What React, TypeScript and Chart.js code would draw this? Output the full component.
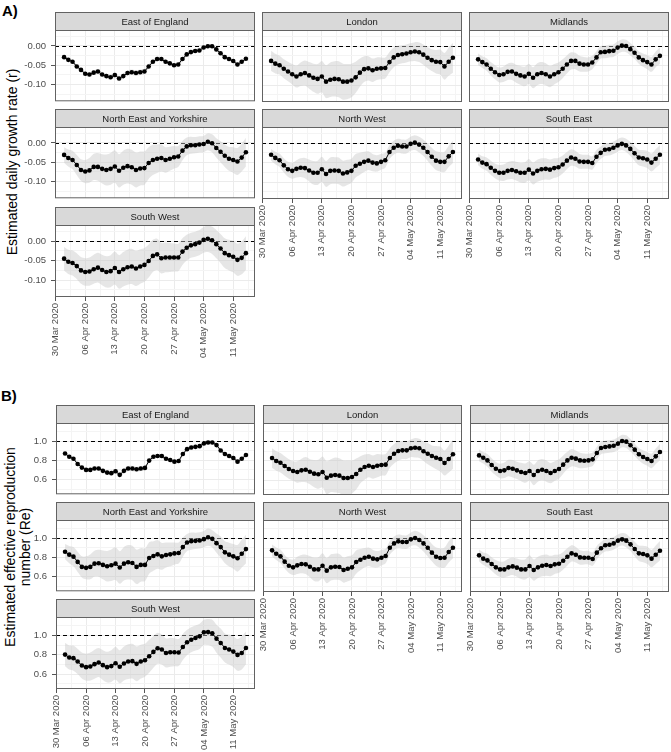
import React, { useEffect, useRef } from 'react';
import { Chart, registerables } from 'chart.js';
Chart.register(...registerables);

const FONT = '"Liberation Sans", Arial, Helvetica, sans-serif';

// ---------- data ----------
const regions = ['East of England', 'London', 'Midlands', 'North East and Yorkshire', 'North West', 'South East', 'South West'];
// days since 30 Mar 2020 (1 Apr .. 14 May 2020)
const dayOffsets = [2,3,4,5,6,7,8,9,10,11,12,13,14,15,16,17,18,19,20,21,22,23,24,25,26,27,28,29,30,31,32,33,34,35,36,37,38,39,40,41,42,43,44,45];
const xMajorDays = [0, 7, 14, 21, 28, 35, 42];
const xMajorLabels = ['30 Mar 2020', '06 Apr 2020', '13 Apr 2020', '20 Apr 2020', '27 Apr 2020', '04 May 2020', '11 May 2020'];
const xMinorDays = [3.5, 10.5, 17.5, 24.5, 31.5, 38.5, 45.5];

const rTicks = [-0.125, -0.1, -0.075, -0.05, -0.025, 0, 0.025];
const rTickLabels = ['', '-0.10', '', '-0.05', '', '0.00', ''];
const reTicks = [0.5, 0.6, 0.7, 0.8, 0.9, 1.0, 1.1];
const reTickLabels = ['', '0.6', '', '0.8', '', '1.0', ''];

// A) growth rate r
const rEastOfEngland = [-0.029,-0.036,-0.041,-0.053,-0.062,-0.072,-0.074,-0.069,-0.066,-0.074,-0.078,-0.081,-0.075,-0.084,-0.078,-0.070,-0.068,-0.070,-0.068,-0.066,-0.053,-0.041,-0.034,-0.034,-0.041,-0.045,-0.050,-0.048,-0.034,-0.022,-0.016,-0.013,-0.012,-0.004,-0.001,-0.001,-0.009,-0.019,-0.029,-0.034,-0.039,-0.048,-0.041,-0.033];
const rLondon = [-0.038,-0.045,-0.049,-0.058,-0.065,-0.072,-0.078,-0.072,-0.069,-0.075,-0.081,-0.084,-0.078,-0.091,-0.086,-0.084,-0.085,-0.091,-0.091,-0.088,-0.080,-0.068,-0.059,-0.057,-0.062,-0.058,-0.057,-0.056,-0.041,-0.029,-0.023,-0.021,-0.019,-0.016,-0.014,-0.016,-0.022,-0.030,-0.036,-0.040,-0.041,-0.052,-0.040,-0.030];
const rMidlands = [-0.034,-0.041,-0.047,-0.058,-0.067,-0.074,-0.072,-0.066,-0.065,-0.071,-0.075,-0.078,-0.071,-0.081,-0.072,-0.069,-0.072,-0.078,-0.072,-0.067,-0.058,-0.047,-0.038,-0.038,-0.045,-0.047,-0.047,-0.042,-0.029,-0.016,-0.015,-0.013,-0.012,-0.004,0.001,0.000,-0.008,-0.017,-0.029,-0.036,-0.041,-0.047,-0.034,-0.025];
const rNorthEastYorkshire = [-0.031,-0.039,-0.044,-0.057,-0.070,-0.074,-0.071,-0.062,-0.062,-0.067,-0.070,-0.067,-0.061,-0.072,-0.064,-0.060,-0.063,-0.070,-0.066,-0.065,-0.052,-0.044,-0.041,-0.039,-0.044,-0.041,-0.037,-0.035,-0.020,-0.009,-0.006,-0.006,-0.004,-0.003,0.003,-0.001,-0.013,-0.023,-0.033,-0.041,-0.044,-0.048,-0.038,-0.024];
const rNorthWest = [-0.030,-0.038,-0.044,-0.057,-0.067,-0.071,-0.066,-0.063,-0.064,-0.070,-0.076,-0.076,-0.067,-0.079,-0.071,-0.070,-0.071,-0.078,-0.075,-0.071,-0.058,-0.053,-0.048,-0.045,-0.050,-0.052,-0.048,-0.044,-0.023,-0.012,-0.007,-0.009,-0.009,-0.002,0.001,-0.004,-0.012,-0.023,-0.035,-0.045,-0.048,-0.048,-0.034,-0.023];
const rSouthEast = [-0.042,-0.050,-0.054,-0.063,-0.071,-0.076,-0.076,-0.071,-0.069,-0.072,-0.076,-0.076,-0.068,-0.078,-0.071,-0.067,-0.066,-0.068,-0.064,-0.062,-0.055,-0.045,-0.037,-0.040,-0.047,-0.048,-0.048,-0.051,-0.035,-0.025,-0.017,-0.016,-0.012,-0.006,-0.002,-0.006,-0.015,-0.026,-0.037,-0.039,-0.042,-0.050,-0.040,-0.030];
const rSouthWest = [-0.045,-0.053,-0.056,-0.064,-0.075,-0.079,-0.078,-0.072,-0.068,-0.074,-0.079,-0.077,-0.069,-0.079,-0.072,-0.067,-0.065,-0.070,-0.065,-0.061,-0.051,-0.038,-0.034,-0.044,-0.042,-0.042,-0.042,-0.042,-0.027,-0.017,-0.011,-0.008,-0.004,0.003,0.006,0.002,-0.008,-0.019,-0.031,-0.036,-0.040,-0.048,-0.043,-0.031];

// A) 95% interval half-widths
const rEastOfEnglandHw = [0.004,0.004,0.004,0.005,0.005,0.005,0.005,0.005,0.006,0.006,0.006,0.007,0.007,0.007,0.007,0.007,0.007,0.007,0.007,0.007,0.006,0.006,0.006,0.005,0.005,0.005,0.005,0.005,0.005,0.005,0.005,0.005,0.005,0.005,0.005,0.005,0.005,0.005,0.005,0.005,0.005,0.005,0.005,0.005];
const rLondonHw = [0.026,0.025,0.024,0.024,0.025,0.026,0.028,0.030,0.032,0.034,0.036,0.038,0.040,0.042,0.044,0.045,0.046,0.046,0.045,0.043,0.040,0.036,0.033,0.031,0.030,0.029,0.028,0.027,0.026,0.025,0.024,0.023,0.023,0.023,0.024,0.025,0.026,0.027,0.028,0.030,0.032,0.034,0.036,0.038];
const rMidlandsHw = [0.015,0.015,0.016,0.017,0.018,0.019,0.020,0.021,0.022,0.023,0.024,0.025,0.026,0.027,0.028,0.028,0.028,0.027,0.026,0.025,0.024,0.023,0.022,0.021,0.020,0.019,0.018,0.017,0.016,0.016,0.016,0.016,0.016,0.016,0.016,0.016,0.016,0.016,0.016,0.017,0.018,0.019,0.020,0.021];
const rNorthEastYorkshireHw = [0.020,0.022,0.024,0.026,0.028,0.030,0.032,0.034,0.036,0.038,0.040,0.041,0.042,0.043,0.044,0.045,0.045,0.045,0.044,0.043,0.041,0.039,0.037,0.035,0.033,0.031,0.029,0.027,0.025,0.023,0.022,0.021,0.021,0.021,0.022,0.023,0.025,0.027,0.029,0.031,0.033,0.035,0.036,0.037];
const rNorthWestHw = [0.015,0.016,0.017,0.018,0.019,0.020,0.022,0.024,0.026,0.028,0.030,0.031,0.032,0.033,0.034,0.034,0.034,0.033,0.032,0.031,0.030,0.028,0.026,0.024,0.022,0.021,0.020,0.019,0.018,0.018,0.018,0.018,0.018,0.018,0.019,0.020,0.021,0.022,0.023,0.024,0.025,0.026,0.027,0.028];
const rSouthEastHw = [0.015,0.016,0.017,0.018,0.019,0.020,0.021,0.022,0.023,0.024,0.025,0.026,0.027,0.028,0.028,0.028,0.027,0.026,0.025,0.024,0.023,0.022,0.021,0.020,0.019,0.018,0.018,0.017,0.017,0.016,0.016,0.016,0.016,0.016,0.016,0.017,0.018,0.019,0.020,0.021,0.022,0.023,0.024,0.025];
const rSouthWestHw = [0.030,0.031,0.032,0.033,0.034,0.035,0.036,0.037,0.038,0.039,0.040,0.041,0.042,0.043,0.044,0.045,0.045,0.045,0.044,0.043,0.042,0.041,0.040,0.039,0.038,0.037,0.036,0.035,0.034,0.033,0.032,0.032,0.032,0.033,0.034,0.035,0.036,0.037,0.038,0.039,0.040,0.041,0.042,0.043];

// B) effective reproduction number Re
const reEastOfEngland = [0.872,0.838,0.817,0.762,0.724,0.700,0.700,0.714,0.714,0.690,0.672,0.666,0.686,0.648,0.690,0.714,0.714,0.707,0.714,0.721,0.797,0.838,0.845,0.845,0.817,0.803,0.786,0.793,0.866,0.917,0.934,0.941,0.948,0.976,0.986,0.986,0.959,0.903,0.866,0.845,0.824,0.786,0.817,0.855];
const reLondon = [0.828,0.797,0.779,0.745,0.714,0.693,0.683,0.700,0.707,0.686,0.666,0.659,0.683,0.624,0.645,0.652,0.645,0.621,0.621,0.631,0.662,0.707,0.734,0.748,0.734,0.748,0.755,0.759,0.828,0.872,0.900,0.907,0.907,0.928,0.934,0.928,0.897,0.872,0.848,0.831,0.817,0.776,0.817,0.866];
const reMidlands = [0.855,0.831,0.803,0.755,0.717,0.693,0.700,0.724,0.717,0.700,0.683,0.672,0.693,0.652,0.693,0.707,0.693,0.672,0.693,0.714,0.759,0.803,0.831,0.821,0.803,0.800,0.803,0.814,0.879,0.931,0.941,0.948,0.955,0.976,1.003,0.997,0.959,0.914,0.866,0.838,0.817,0.797,0.845,0.890];
const reNorthEastYorkshire = [0.859,0.828,0.807,0.752,0.700,0.690,0.700,0.734,0.738,0.721,0.707,0.717,0.734,0.693,0.734,0.748,0.741,0.700,0.721,0.721,0.793,0.814,0.831,0.810,0.824,0.831,0.841,0.845,0.907,0.955,0.969,0.972,0.976,0.990,1.010,0.993,0.948,0.907,0.852,0.828,0.810,0.790,0.838,0.886];
const reNorthWest = [0.876,0.841,0.814,0.759,0.717,0.700,0.721,0.734,0.731,0.707,0.679,0.679,0.717,0.666,0.700,0.707,0.703,0.672,0.686,0.700,0.755,0.779,0.800,0.810,0.790,0.783,0.800,0.817,0.903,0.948,0.969,0.962,0.962,0.990,1.003,0.983,0.948,0.903,0.852,0.810,0.797,0.800,0.859,0.903];
const reSouthEast = [0.824,0.790,0.772,0.734,0.700,0.679,0.679,0.700,0.710,0.697,0.679,0.679,0.714,0.672,0.700,0.717,0.724,0.714,0.731,0.738,0.769,0.810,0.845,0.831,0.803,0.800,0.800,0.786,0.852,0.897,0.928,0.934,0.948,0.976,0.990,0.976,0.938,0.890,0.845,0.838,0.824,0.790,0.831,0.872];
const reSouthWest = [0.801,0.771,0.764,0.729,0.688,0.671,0.678,0.702,0.719,0.692,0.671,0.682,0.712,0.675,0.709,0.729,0.733,0.705,0.729,0.743,0.784,0.829,0.866,0.853,0.818,0.825,0.825,0.822,0.880,0.928,0.955,0.973,0.990,1.031,1.034,1.021,0.966,0.921,0.870,0.853,0.832,0.798,0.818,0.870];

// B) 95% interval half-widths
const reEastOfEnglandHw = [0.015,0.015,0.016,0.017,0.018,0.019,0.020,0.021,0.022,0.023,0.024,0.025,0.026,0.027,0.027,0.027,0.027,0.026,0.025,0.024,0.023,0.022,0.021,0.020,0.020,0.020,0.020,0.020,0.020,0.020,0.020,0.020,0.020,0.020,0.020,0.020,0.020,0.020,0.020,0.020,0.020,0.020,0.020,0.020];
const reLondonHw = [0.10,0.10,0.10,0.10,0.10,0.10,0.11,0.12,0.13,0.13,0.14,0.15,0.16,0.17,0.17,0.18,0.18,0.18,0.18,0.17,0.16,0.14,0.13,0.12,0.12,0.12,0.11,0.11,0.10,0.10,0.10,0.09,0.09,0.09,0.10,0.10,0.10,0.11,0.11,0.12,0.13,0.13,0.14,0.15];
const reMidlandsHw = [0.060,0.060,0.065,0.070,0.070,0.075,0.080,0.085,0.090,0.090,0.095,0.100,0.100,0.105,0.110,0.110,0.110,0.105,0.100,0.100,0.095,0.090,0.090,0.085,0.080,0.075,0.070,0.070,0.065,0.065,0.065,0.065,0.065,0.065,0.065,0.065,0.065,0.065,0.065,0.070,0.070,0.075,0.080,0.085];
const reNorthEastYorkshireHw = [0.080,0.090,0.100,0.105,0.110,0.120,0.130,0.135,0.140,0.150,0.160,0.165,0.170,0.170,0.175,0.180,0.180,0.180,0.175,0.170,0.165,0.155,0.150,0.140,0.130,0.125,0.115,0.110,0.100,0.090,0.090,0.085,0.085,0.085,0.090,0.090,0.100,0.110,0.115,0.125,0.130,0.140,0.145,0.150];
const reNorthWestHw = [0.060,0.065,0.070,0.070,0.075,0.080,0.090,0.095,0.100,0.110,0.120,0.125,0.130,0.130,0.135,0.135,0.135,0.130,0.130,0.125,0.120,0.110,0.100,0.095,0.090,0.085,0.080,0.075,0.070,0.070,0.070,0.070,0.070,0.070,0.075,0.080,0.085,0.090,0.090,0.095,0.100,0.105,0.110,0.110];
const reSouthEastHw = [0.060,0.065,0.070,0.070,0.075,0.080,0.085,0.090,0.090,0.095,0.100,0.105,0.110,0.110,0.110,0.110,0.110,0.105,0.100,0.095,0.090,0.090,0.085,0.080,0.075,0.070,0.070,0.070,0.070,0.065,0.065,0.065,0.065,0.065,0.065,0.070,0.070,0.075,0.080,0.085,0.090,0.090,0.095,0.100];
const reSouthWestHw = [0.120,0.125,0.130,0.130,0.135,0.140,0.145,0.150,0.150,0.155,0.160,0.165,0.170,0.170,0.175,0.180,0.180,0.180,0.175,0.170,0.170,0.165,0.160,0.155,0.150,0.150,0.145,0.140,0.135,0.130,0.130,0.130,0.130,0.130,0.135,0.140,0.145,0.150,0.150,0.155,0.160,0.165,0.170,0.170];

const rSeries = [rEastOfEngland, rLondon, rMidlands, rNorthEastYorkshire, rNorthWest, rSouthEast, rSouthWest];
const rHw = [rEastOfEnglandHw, rLondonHw, rMidlandsHw, rNorthEastYorkshireHw, rNorthWestHw, rSouthEastHw, rSouthWestHw];
const reSeries = [reEastOfEngland, reLondon, reMidlands, reNorthEastYorkshire, reNorthWest, reSouthEast, reSouthWest];
const reHw = [reEastOfEnglandHw, reLondonHw, reMidlandsHw, reNorthEastYorkshireHw, reNorthWestHw, reSouthEastHw, reSouthWestHw];

// ---------- style / layout ----------
const STRIP_H = 18;
const PAD = 10;
const X_AXIS_H = 76;
const PANEL_H = 72;
const MAJOR_GRID = '#EBEBEB';
const MINOR_GRID = '#F4F4F4';
const BORDER = '#626262';
const TICK_COLOR = '#555555';
const TEXT_TICK = '#4D4D4D';
const RIBBON = 'rgba(200,200,200,0.45)';

const xTicksAll = [...xMajorDays, ...xMinorDays].sort((a, b) => a - b);
const xLabelsAll = xTicksAll.map((d) => {
  const i = xMajorDays.indexOf(d);
  return i >= 0 ? xMajorLabels[i] : '';
});

type PanelProps = {
  title: string;
  values: number[];
  hw: number[];
  panelLeft: number;
  panelTop: number;
  panelW: number;
  showY: boolean;
  showX: boolean;
  yMin: number;
  yMax: number;
  yTicks: number[];
  yLabels: string[];
  refY: number;
};

function Panel(p: PanelProps) {
  const ref = useRef<HTMLCanvasElement>(null);
  const leftExtra = p.showY ? p.panelLeft : PAD;
  const canvasLeft = p.panelLeft - leftExtra;
  const canvasTop = p.panelTop - STRIP_H - 1;
  const canvasW = leftExtra + p.panelW + PAD;
  const canvasH = STRIP_H + 1 + PANEL_H + (p.showX ? X_AXIS_H : PAD);

  useEffect(() => {
    if (!ref.current) return;
    const main = dayOffsets.map((d, i) => ({ x: d, y: p.values[i] }));
    const lo = dayOffsets.map((d, i) => ({ x: d, y: p.values[i] - p.hw[i] }));
    const hi = dayOffsets.map((d, i) => ({ x: d, y: p.values[i] + p.hw[i] }));

    const deco = {
      id: 'deco',
      beforeDatasetsDraw(chart: any) {
        const { ctx, chartArea: a, scales } = chart;
        const y = Math.round(scales.y.getPixelForValue(p.refY)) + 0.5;
        ctx.save();
        ctx.beginPath();
        ctx.setLineDash([4, 3]);
        ctx.strokeStyle = '#000';
        ctx.lineWidth = 1;
        ctx.moveTo(a.left, y);
        ctx.lineTo(a.right, y);
        ctx.stroke();
        ctx.restore();
      },
      afterDraw(chart: any) {
        const { ctx, chartArea: a } = chart;
        ctx.save();
        ctx.strokeStyle = BORDER;
        ctx.lineWidth = 1;
        ctx.strokeRect(a.left + 0.5, a.top + 0.5, a.right - a.left - 1, a.bottom - a.top - 1);
        const st = a.top - STRIP_H;
        ctx.fillStyle = '#D9D9D9';
        ctx.fillRect(a.left, st, a.right - a.left, STRIP_H);
        ctx.strokeRect(a.left + 0.5, st + 0.5, a.right - a.left - 1, STRIP_H);
        ctx.fillStyle = '#1A1A1A';
        ctx.font = `9.5px ${FONT}`;
        ctx.textAlign = 'center';
        ctx.textBaseline = 'middle';
        ctx.fillText(p.title, (a.left + a.right) / 2, st + STRIP_H / 2 + 1);
        ctx.restore();
      },
    };

    const chart = new Chart(ref.current, {
      type: 'line',
      data: {
        datasets: [
          {
            data: main,
            borderColor: '#000',
            borderWidth: 1,
            pointRadius: 2.3,
            pointBackgroundColor: '#000',
            pointBorderWidth: 0,
            fill: false,
          },
          {
            data: lo,
            borderWidth: 0,
            borderColor: 'rgba(0,0,0,0)',
            pointRadius: 0,
            fill: false,
            tension: 0.3,
          },
          {
            data: hi,
            borderWidth: 0,
            borderColor: 'rgba(0,0,0,0)',
            pointRadius: 0,
            fill: '-1',
            backgroundColor: RIBBON,
            tension: 0.3,
          },
        ],
      } as any,
      options: {
        animation: false,
        responsive: false,
        devicePixelRatio: 1,
        events: [],
        layout: {
          padding: { top: STRIP_H + 1, left: p.showY ? 0 : PAD, right: PAD, bottom: p.showX ? 0 : PAD },
        },
        plugins: { legend: { display: false }, tooltip: { enabled: false } },
        scales: {
          x: {
            type: 'linear',
            min: -0.15,
            max: 47.15,
            afterBuildTicks: (s: any) => {
              s.ticks = xTicksAll.map((v) => ({ value: v }));
            },
            afterFit: (s: any) => {
              s.height = p.showX ? X_AXIS_H : 0;
            },
            border: { display: false },
            grid: {
              color: (c: any) => (xLabelsAll[c.index] ? MAJOR_GRID : MINOR_GRID),
              lineWidth: 1,
              drawTicks: p.showX,
              tickLength: 4,
              tickWidth: 1,
              tickColor: (c: any) => (xLabelsAll[c.index] ? TICK_COLOR : 'rgba(0,0,0,0)'),
            },
            ticks: {
              display: p.showX,
              autoSkip: false,
              minRotation: 90,
              maxRotation: 90,
              padding: 2,
              color: TEXT_TICK,
              font: { family: FONT, size: 9.5 },
              callback: (_v: any, i: number) => xLabelsAll[i],
            },
          },
          y: {
            type: 'linear',
            min: p.yMin,
            max: p.yMax,
            afterBuildTicks: (s: any) => {
              s.ticks = p.yTicks.map((v) => ({ value: v }));
            },
            afterFit: (s: any) => {
              s.width = p.showY ? p.panelLeft : 0;
            },
            border: { display: false },
            grid: {
              color: (c: any) => (p.yLabels[c.index] ? MAJOR_GRID : MINOR_GRID),
              lineWidth: 1,
              drawTicks: p.showY,
              tickLength: 4,
              tickWidth: 1,
              tickColor: (c: any) => (p.yLabels[c.index] ? TICK_COLOR : 'rgba(0,0,0,0)'),
            },
            ticks: {
              display: p.showY,
              autoSkip: false,
              padding: 5,
              color: TEXT_TICK,
              font: { family: FONT, size: 9.5 },
              callback: (_v: any, i: number) => p.yLabels[i],
            },
          },
        },
      } as any,
      plugins: [deco],
    });
    return () => chart.destroy();
  }, []);

  return (
    <canvas
      ref={ref}
      width={canvasW}
      height={canvasH}
      style={{ position: 'absolute', left: canvasLeft, top: canvasTop, width: canvasW, height: canvasH }}
    />
  );
}

const gridPos = [
  [0, 0], [0, 1], [0, 2],
  [1, 0], [1, 1], [1, 2],
  [2, 0],
];

function Facets(props: {
  series: number[][];
  hws: number[][];
  colLefts: number[];
  panelW: number;
  rowTops: number[];
  yMin: number;
  yMax: number;
  yTicks: number[];
  yLabels: string[];
  refY: number;
}) {
  return (
    <>
      {regions.map((name, i) => {
        const [row, col] = gridPos[i];
        const showX = (col === 0 && row === 2) || (col > 0 && row === 1);
        return (
          <Panel
            key={name}
            title={name}
            values={props.series[i]}
            hw={props.hws[i]}
            panelLeft={props.colLefts[col]}
            panelTop={props.rowTops[row]}
            panelW={props.panelW}
            showY={col === 0}
            showX={showX}
            yMin={props.yMin}
            yMax={props.yMax}
            yTicks={props.yTicks}
            yLabels={props.yLabels}
            refY={props.refY}
          />
        );
      })}
    </>
  );
}

export default function App() {
  const label: React.CSSProperties = { position: 'absolute', fontFamily: FONT, color: '#000', whiteSpace: 'nowrap' };
  return (
    <div style={{ position: 'absolute', left: 0, top: 0, width: 671, height: 752, background: '#fff', overflow: 'hidden' }}>
      <div style={{ ...label, left: 2, top: 2, fontSize: 15, fontWeight: 'bold' }}>A)</div>
      <div style={{ ...label, left: 1, top: 387, fontSize: 15, fontWeight: 'bold' }}>B)</div>
      <div
        style={{
          ...label,
          left: 12,
          top: 162,
          fontSize: 14,
          transform: 'translate(-50%, -50%) rotate(-90deg)',
        }}
      >
        Estimated daily growth rate (r)
      </div>
      <div
        style={{
          ...label,
          left: 18,
          top: 547,
          fontSize: 14,
          lineHeight: '15px',
          textAlign: 'center',
          transform: 'translate(-50%, -50%) rotate(-90deg)',
        }}
      >
        Estimated effective reproduction
        <br />
        number (Re)
      </div>
      <Facets
        series={rSeries}
        hws={rHw}
        colLefts={[55, 262, 469]}
        panelW={200}
        rowTops={[30, 127, 225]}
        yMin={-0.143}
        yMax={0.041}
        yTicks={rTicks}
        yLabels={rTickLabels}
        refY={0}
      />
      <Facets
        series={reSeries}
        hws={reHw}
        colLefts={[56, 263, 470]}
        panelW={199}
        rowTops={[423, 520, 617]}
        yMin={0.445}
        yMax={1.19}
        yTicks={reTicks}
        yLabels={reTickLabels}
        refY={1}
      />
    </div>
  );
}
